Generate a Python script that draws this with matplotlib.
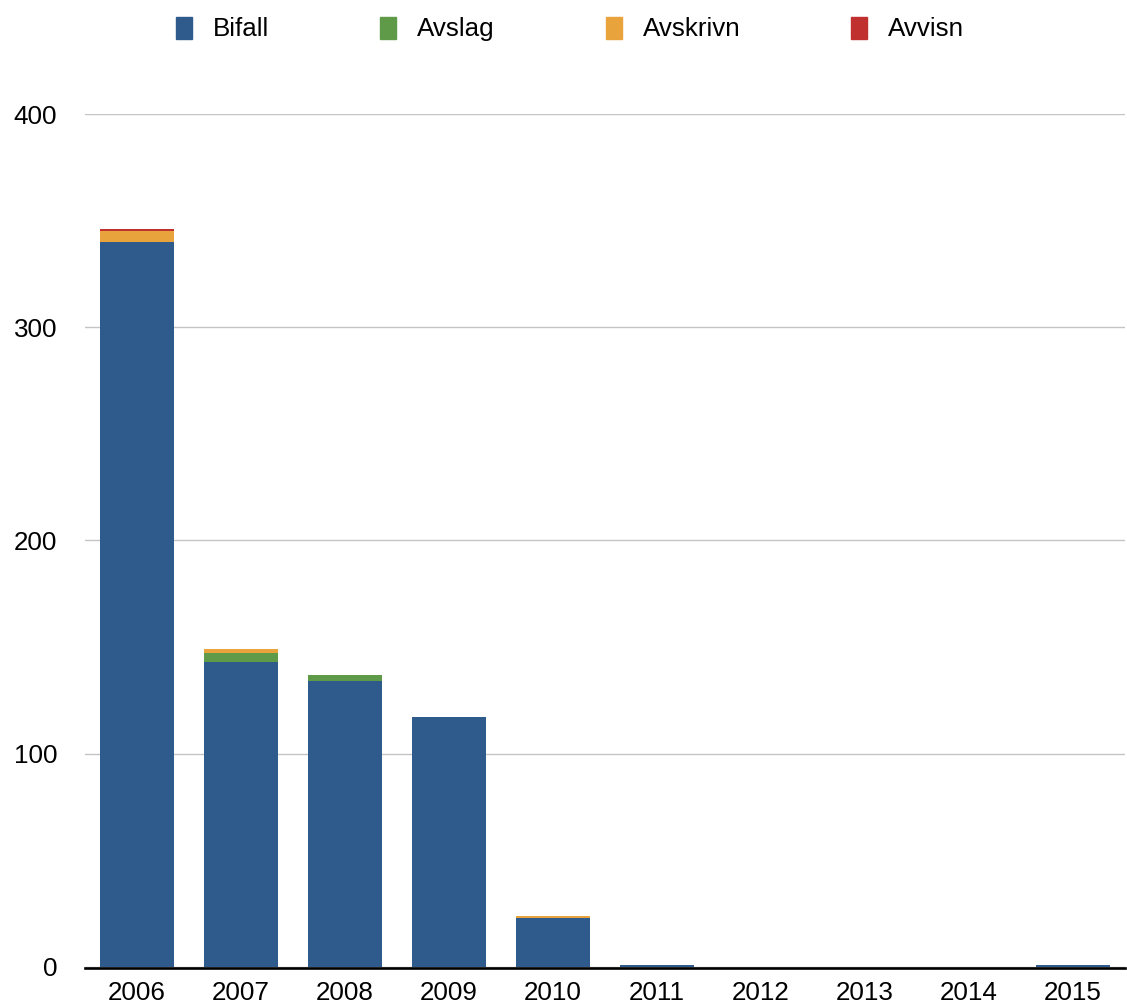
import numpy as np
import matplotlib.pyplot as plt
from matplotlib.patches import Rectangle

########## Data #################
years = ['2006', '2007', '2008', '2009', '2010', '2011', '2012', '2013', '2014', '2015']
bifall = [340, 143, 134, 117, 23, 1, 0, 0, 0, 1]
avslag = [0, 4, 3, 0, 0, 0, 0, 0, 0, 0]
avskrivn = [5, 2, 0, 0, 1, 0, 0, 0, 0, 0]
avvisn = [1, 0, 0, 0, 0, 0, 0, 0, 0, 0]
series_names = ['Bifall', 'Avslag', 'Avskrivn', 'Avvisn']
colors = ['#2E5A8C', '#5E9A48', '#E8A33C', '#C0302F']

plt.rcParams['font.family'] = ['Liberation Sans', 'DejaVu Sans']

fig = plt.figure(figsize=(11.27, 10.05), dpi=100)
ax = fig.add_axes([85/1127, 37/1005, 1040/1127, (968-114)/1005])

x = np.arange(len(years))
bottom = np.zeros(len(years))
for vals, col in zip([bifall, avslag, avskrivn, avvisn], colors):
    ax.bar(x, vals, width=0.72, bottom=bottom, color=col, zorder=3)
    bottom += np.array(vals)

ax.set_xlim(-0.5, len(years) - 0.5)
ax.set_ylim(-0.5, 400)
ax.set_yticks([0, 100, 200, 300, 400])
ax.set_xticks(x)
ax.set_xticklabels(years)
ax.yaxis.grid(True, color='#c4c4c4', linewidth=1, zorder=0)
for s in ['top', 'right', 'left']:
    ax.spines[s].set_visible(False)
ax.spines['bottom'].set_linewidth(1.9)
ax.spines['bottom'].set_zorder(4)
ax.tick_params(axis='both', length=0, labelsize=18.7)
ax.tick_params(axis='y', pad=20)
ax.tick_params(axis='x', pad=9)

############ legend drawn by hand ##############
sq_x = [176, 380, 606, 851]
for name, col, sx in zip(series_names, colors, sq_x):
    fig.patches.append(Rectangle((sx/1127, 1 - 39/1005), 16/1127, 22/1005,
                                 transform=fig.transFigure, color=col))
    fig.text((sx + 37)/1127, 1 - 29/1005, name, fontsize=18.7, va='center', ha='left')

fig.savefig('out.png', dpi=100)
